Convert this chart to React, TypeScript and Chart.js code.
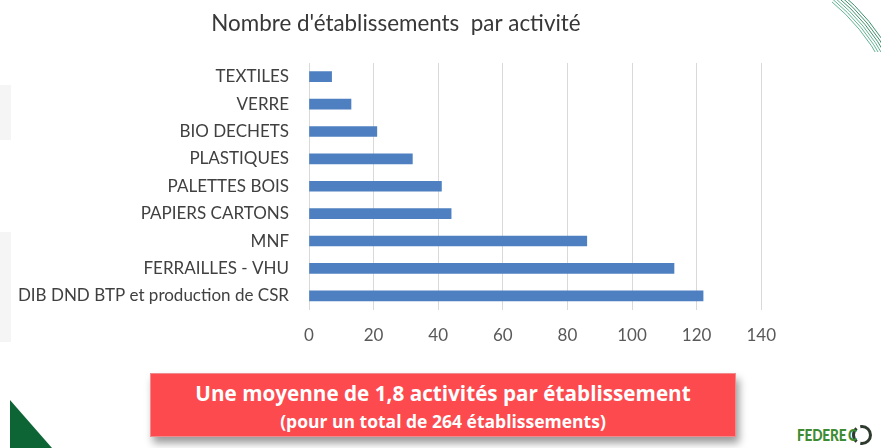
import React, { useEffect, useRef } from "react";
import { Chart, registerables } from "chart.js";

Chart.register(...registerables);

const categories = [
  "TEXTILES",
  "VERRE",
  "BIO DECHETS",
  "PLASTIQUES",
  "PALETTES BOIS",
  "PAPIERS CARTONS",
  "MNF",
  "FERRAILLES - VHU",
  "DIB DND BTP et production de CSR",
];
const counts = [7, 13, 21, 32, 41, 44, 86, 113, 122];
const xTickValues = [0, 20, 40, 60, 80, 100, 120, 140];
const chartTitle = "Nombre d'établissements  par activité";
const noteLine1 = "Une moyenne de 1,8 activités par établissement";
const noteLine2 = "(pour un total de 264 établissements)";
const logoText = "FEDERE";
const logoLastLetter = "C";

const FONT = "Lato, 'Open Sans', sans-serif";
const BOX_FONT = "'Open Sans', Lato, sans-serif";

export default function App() {
  const canvasRef = useRef<HTMLCanvasElement | null>(null);

  useEffect(() => {
    document.body.style.margin = "0";
    const canvas = canvasRef.current;
    if (!canvas) return;
    const chart = new Chart(canvas, {
      type: "bar",
      data: {
        labels: categories,
        datasets: [
          {
            label: "Établissements",
            data: counts,
            backgroundColor: "#4e80c1",
            borderWidth: 0,
            barThickness: 10,
          },
        ],
      },
      options: {
        indexAxis: "y",
        animation: false,
        responsive: true,
        maintainAspectRatio: false,
        layout: { padding: { left: 0, right: 0, top: 0, bottom: 0 } },
        plugins: {
          legend: { display: false },
          tooltip: { enabled: false },
          title: {
            display: true,
            text: chartTitle,
            color: "#383838",
            font: { family: FONT, size: 22.4, weight: "normal", lineHeight: 1.2 },
            padding: { top: 10.5, bottom: 25.6 },
          },
        },
        scales: {
          x: {
            type: "linear",
            min: xTickValues[0],
            max: xTickValues[xTickValues.length - 1],
            afterBuildTicks: (scale: any) => {
              scale.ticks = xTickValues.map((v) => ({ value: v }));
            },
            afterFit: (scale: any) => {
              scale.height = 40.5;
            },
            ticks: {
              color: "#595959",
              font: { family: FONT, size: 17 },
              padding: 16,
            },
            grid: {
              color: "#d9d9d9",
              lineWidth: 1,
              drawTicks: false,
            },
            border: { display: false },
          },
          y: {
            afterFit: (scale: any) => {
              scale.width = 309;
            },
            ticks: {
              color: "#404040",
              font: { family: FONT, size: 17 },
              padding: 20,
              autoSkip: false,
            },
            grid: { display: false, drawTicks: false },
            border: { display: false },
          },
        },
      },
    });
    return () => chart.destroy();
  }, []);

  return (
    <div
      style={{
        position: "absolute",
        left: 0,
        top: 0,
        width: 881,
        height: 448,
        background: "#ffffff",
        overflow: "hidden",
        fontFamily: FONT,
      }}
    >
      <svg
        width={881}
        height={448}
        style={{ position: "absolute", left: 0, top: 0 }}
      >
        <defs>
          <clipPath id="arcClip">
            <rect x={832} y={0} width={49} height={52} />
          </clipPath>
        </defs>
        <rect x={0} y={85} width={11} height={55} fill="#f5f5f5" />
        <rect x={0} y={232} width={11} height={110} fill="#f5f5f5" />
        <polygon points="10,400 10,448 52,448" fill="#0d6536" />
        <g clipPath="url(#arcClip)">
          {[0, 2.5, 5, 7.5, 10, 12.5].map((d) => (
            <circle
              key={d}
              cx={700}
              cy={160}
              r={206 + d}
              fill="none"
              stroke={d < 7 ? "#62b392" : "#3f8f6c"}
              strokeWidth={1}
            />
          ))}
        </g>
        <circle cx={862} cy={435} r={8.5} fill="none" stroke="#2f3a2f" strokeWidth={3} strokeDasharray="15 4" />
      </svg>

      <div style={{ position: "absolute", left: 0, top: 0, width: 792, height: 350 }}>
        <canvas ref={canvasRef} />
      </div>

      <div
        style={{
          position: "absolute",
          left: 150,
          top: 373,
          width: 586,
          height: 64,
          background: "#fc4a4f",
          border: "1px solid #f08a8c",
          boxSizing: "border-box",
          boxShadow: "3px 6px 8px rgba(0,0,0,0.4)",
          color: "#ffffff",
          textAlign: "center",
          fontWeight: "bold",
          fontFamily: BOX_FONT,
        }}
      >
        <div style={{ fontSize: 20.7, lineHeight: "24px", marginTop: 7, whiteSpace: "nowrap" }}>{noteLine1}</div>
        <div style={{ fontSize: 17.5, lineHeight: "20px", marginTop: 6, whiteSpace: "nowrap" }}>{noteLine2}</div>
      </div>

      <div
        style={{
          position: "absolute",
          left: 797,
          top: 425,
          fontSize: 16,
          fontWeight: 900,
          color: "#3d8c33",
          transform: "scaleX(0.85)",
          transformOrigin: "left top",
          letterSpacing: -0.2,
          whiteSpace: "nowrap",
        }}
      >
        {logoText}
        <span style={{ color: "#3d8c33", marginLeft: 2 }}>{logoLastLetter}</span>
      </div>
    </div>
  );
}
